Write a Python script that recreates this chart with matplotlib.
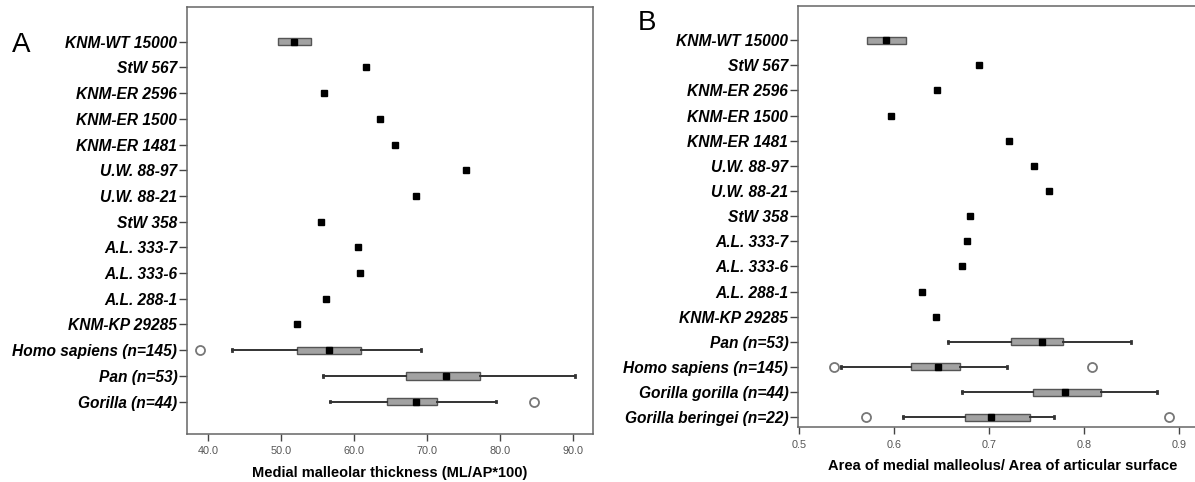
import matplotlib
matplotlib.use("Agg")
import matplotlib.pyplot as plt
from matplotlib.ticker import FormatStrFormatter

plt.rcParams['font.family'] = ['Liberation Sans', 'DejaVu Sans']

# ---- panel A: medial malleolar thickness ----
labels_a = ["KNM-WT 15000", "StW 567", "KNM-ER 2596", "KNM-ER 1500", "KNM-ER 1481",
            "U.W. 88-97", "U.W. 88-21", "StW 358", "A.L. 333-7", "A.L. 333-6",
            "A.L. 288-1", "KNM-KP 29285", "Homo sapiens (n=145)", "Pan (n=53)", "Gorilla (n=44)"]
points_a = ["StW 567", "KNM-ER 2596", "KNM-ER 1500", "KNM-ER 1481", "U.W. 88-97",
            "U.W. 88-21", "StW 358", "A.L. 333-7", "A.L. 333-6", "A.L. 288-1", "KNM-KP 29285"]
point_vals_a = [61.6, 55.9, 63.5, 65.6, 75.3, 68.5, 55.5, 60.5, 60.8, 56.1, 52.1]
boxes_a = ["KNM-WT 15000", "Homo sapiens (n=145)", "Pan (n=53)", "Gorilla (n=44)"]
whislo_a = [49.5, 43.2, 55.7, 56.7]
q1_a = [49.5, 52.2, 67.1, 64.5]
med_a = [51.8, 56.6, 72.6, 68.5]
q3_a = [54.1, 60.9, 77.2, 71.3]
whishi_a = [54.1, 69.2, 90.2, 79.4]
fliers_a = [[], [38.9], [], [84.6]]

# ---- panel B: area ratio ----
labels_b = ["KNM-WT 15000", "StW 567", "KNM-ER 2596", "KNM-ER 1500", "KNM-ER 1481",
            "U.W. 88-97", "U.W. 88-21", "StW 358", "A.L. 333-7", "A.L. 333-6",
            "A.L. 288-1", "KNM-KP 29285", "Pan (n=53)", "Homo sapiens (n=145)",
            "Gorilla gorilla (n=44)", "Gorilla beringei (n=22)"]
points_b = ["StW 567", "KNM-ER 2596", "KNM-ER 1500", "KNM-ER 1481", "U.W. 88-97",
            "U.W. 88-21", "StW 358", "A.L. 333-7", "A.L. 333-6", "A.L. 288-1", "KNM-KP 29285"]
point_vals_b = [0.690, 0.645, 0.597, 0.721, 0.747, 0.763, 0.680, 0.677, 0.672, 0.629, 0.6445]
boxes_b = ["KNM-WT 15000", "Pan (n=53)", "Homo sapiens (n=145)",
           "Gorilla gorilla (n=44)", "Gorilla beringei (n=22)"]
whislo_b = [0.572, 0.657, 0.544, 0.672, 0.6095]
q1_b = [0.572, 0.7235, 0.618, 0.7466, 0.6744]
med_b = [0.592, 0.7555, 0.6467, 0.780, 0.702]
q3_b = [0.613, 0.778, 0.670, 0.818, 0.743]
whishi_b = [0.613, 0.850, 0.719, 0.877, 0.768]
fliers_b = [[], [], [0.5365, 0.808], [], [0.5705, 0.890]]

W, H = 1195, 482
fig = plt.figure(figsize=(W / 100, H / 100), dpi=100)
ax_a = fig.add_axes([187 / W, 1 - 434 / H, 406 / W, 427 / H])
ax_b = fig.add_axes([798 / W, 1 - 427 / H, 409 / W, 421.5 / H])


def draw_panel(ax, labels, points, point_vals, boxes, wlo, q1, med, q3, whi, fliers):
    pos = {lab: i + 1 for i, lab in enumerate(labels)}
    stats = []
    for i, lab in enumerate(boxes):
        stats.append(dict(label=lab, whislo=wlo[i], q1=q1[i], med=med[i],
                          q3=q3[i], whishi=whi[i], fliers=fliers[i]))
    bpos = [pos[b] for b in boxes]
    bp = ax.bxp(stats, positions=bpos, vert=False, widths=0.28, patch_artist=True,
                showcaps=True, capwidths=0.06,
                boxprops=dict(facecolor='#a2a2a2', edgecolor='#555555', linewidth=1),
                whiskerprops=dict(color='#333333', linewidth=1.4),
                capprops=dict(color='#333333', linewidth=2),
                medianprops=dict(linewidth=0),
                flierprops=dict(marker='o', markersize=6.5, markerfacecolor='white',
                                markeredgecolor='#777777', markeredgewidth=1.3))
    # no caps where the box has no whiskers
    for i in range(len(boxes)):
        if wlo[i] == q1[i] and whi[i] == q3[i]:
            bp['caps'][2 * i].set_visible(False)
            bp['caps'][2 * i + 1].set_visible(False)
    ax.plot(med, bpos, linestyle='none', marker='s', markersize=4.5,
            color='black', zorder=5)
    ax.plot(point_vals, [pos[p] for p in points], linestyle='none', marker='s',
            markersize=4, color='black', zorder=5)
    ax.set_yticks(range(1, len(labels) + 1))
    ax.set_yticklabels(labels, fontsize=11.2, fontweight='bold', fontstyle='italic')
    ax.tick_params(axis='y', length=6, width=1, color='#444444', pad=1)
    ax.tick_params(axis='x', length=5, width=1, color='#444444', labelsize=7.8,
                   labelcolor='#555555', pad=4)
    for s in ax.spines.values():
        s.set_color('#666666')
        s.set_linewidth(1.1)
    ax.xaxis.set_major_formatter(FormatStrFormatter('%.1f'))


draw_panel(ax_a, labels_a, points_a, point_vals_a, boxes_a,
           whislo_a, q1_a, med_a, q3_a, whishi_a, fliers_a)
ax_a.set_xlim(37.1, 92.7)
ax_a.set_ylim(16.26, -0.35)
ax_a.set_xticks([40, 50, 60, 70, 80, 90])
ax_a.set_xlabel("Medial malleolar thickness (ML/AP*100)", fontsize=10.5,
                fontweight='bold', labelpad=7)

draw_panel(ax_b, labels_b, points_b, point_vals_b, boxes_b,
           whislo_b, q1_b, med_b, q3_b, whishi_b, fliers_b)
ax_b.set_xlim(0.499, 0.9295)
ax_b.set_ylim(16.39, -0.38)
ax_b.set_xticks([0.5, 0.6, 0.7, 0.8, 0.9])
ax_b.set_xlabel("Area of medial malleolus/ Area of articular surface", fontsize=10.5,
                fontweight='bold', labelpad=7)

fig.text(12 / W, 1 - 45 / H, "A", fontsize=20, va='center', ha='left')
fig.text(638 / W, 1 - 23 / H, "B", fontsize=20, va='center', ha='left')

fig.savefig("out.png", dpi=100)
